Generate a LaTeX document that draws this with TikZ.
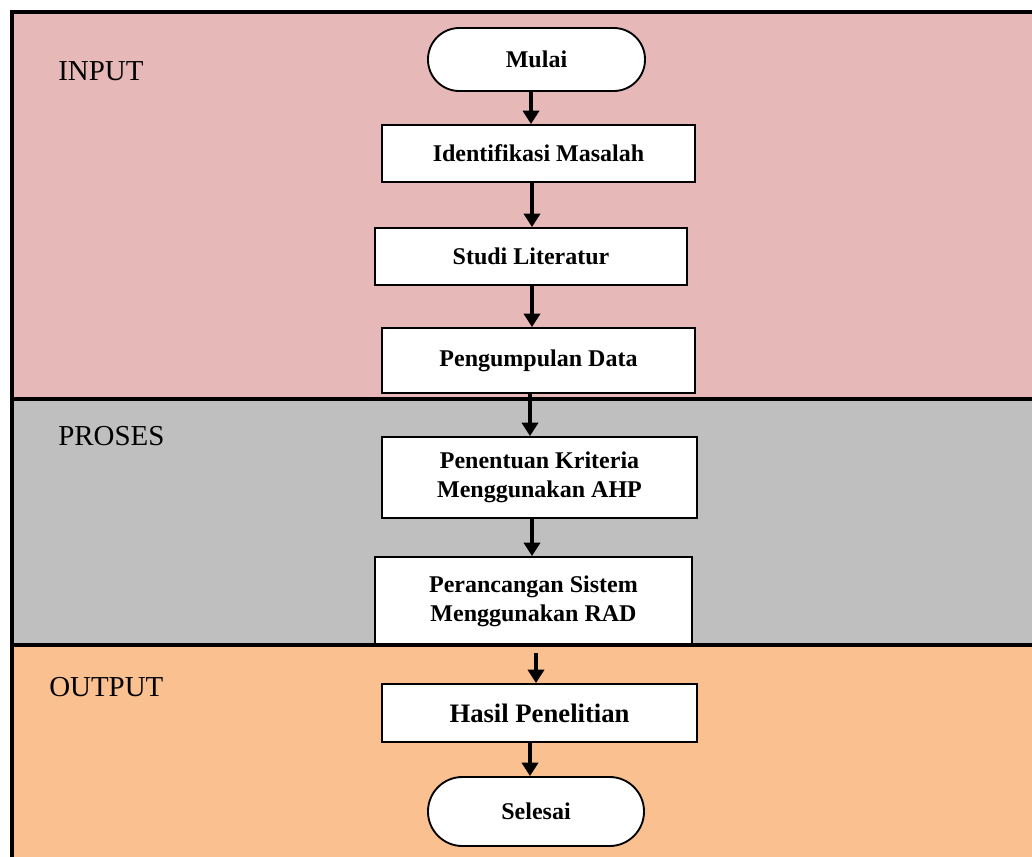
\documentclass[tikz,border=0pt]{standalone}
\usepackage{fontspec}
\setmainfont{Liberation Serif}
\usetikzlibrary{arrows.meta}
\definecolor{pinkbg}{RGB}{230,184,183}
\definecolor{graybg}{RGB}{191,191,191}
\definecolor{orangebg}{RGB}{250,192,144}
\tikzset{
  panel/.style={line width=3pt, draw=black},
  proc/.style={draw=black, fill=white, line width=1.4pt, rectangle, align=center,
    inner sep=0pt, font=\fontsize{18}{21.75}\selectfont\bfseries},
  term/.style={proc},
  lbl/.style={anchor=base west, inner sep=0pt, font=\fontsize{21.7}{26}\selectfont},
  arr/.style={line width=2.8pt, -{Triangle[length=10pt,width=12pt]}}
}
\begin{document}
\begin{tikzpicture}[x=0.75pt,y=-0.75pt]
\useasboundingbox (0,0) rectangle (1032,857);
\clip (0,0) rectangle (1032,857);
% panels fill
\fill[pinkbg] (12,12) rectangle (1050,399);
\fill[graybg] (12,399) rectangle (1050,645);
\fill[orangebg] (12,645) rectangle (1050,880);
% labels
\node[lbl] (lin) at (58,80) {INPUT};
\node[lbl] (lpr) at (58,445) {PROSES};
\node[lbl] (lout) at (49,696) {OUTPUT};
% nodes
\node[term, minimum width=162.75pt, minimum height=47.25pt, rounded corners=23.5pt] (m) at (536.5,59.5) {Mulai};
\node[proc, minimum width=234.75pt, minimum height=42.75pt] (i) at (538.5,153.5) {Identifikasi Masalah};
\node[proc, minimum width=234pt, minimum height=42.75pt] (s) at (531,256.5) {Studi Literatur};
\node[proc, minimum width=234.75pt, minimum height=48.75pt] (p) at (538.5,360.5) {Pengumpulan Data};
\node[proc, minimum width=236.25pt, minimum height=60.75pt] (k) at (539.5,477.5) {Penentuan Kriteria\\Menggunakan AHP};
\node[proc, minimum width=237.75pt, minimum height=66pt] (r) at (533.5,601) {Perancangan Sistem\\Menggunakan RAD};
\node[proc, minimum width=236.25pt, minimum height=43.5pt, font=\fontsize{20}{24}\selectfont\bfseries] (h) at (539.5,713) {Hasil Penelitian};
\node[term, minimum width=162pt, minimum height=51.75pt, rounded corners=25.8pt] (e) at (536,811.5) {Selesai};
% arrow x positions
\coordinate (c1) at (531,0);
\coordinate (c2) at (532,0);
\coordinate (c3) at (532,0);
\coordinate (c4) at (530,0);
\coordinate (c5) at (532,0);
\coordinate (c6) at (536,0);
\coordinate (c7) at (530,0);
\draw[arr] (m.south -| c1) -- (i.north -| c1);
\draw[arr] (i.south -| c2) -- (s.north -| c2);
\draw[arr] (s.south -| c3) -- (p.north -| c3);
\draw[arr] (p.south -| c4) -- (k.north -| c4);
\draw[arr] (k.south -| c5) -- (r.north -| c5);
\draw[arr, shorten <=5.25pt] (r.south -| c6) -- (h.north -| c6);
\draw[arr] (h.south -| c7) -- (e.north -| c7);
% panel borders
\draw[panel] (1050,12) -- (12,12) -- (12,880);
\draw[panel] (12,399) -- (1050,399);
\draw[panel] (12,645) -- (1050,645);
\end{tikzpicture}
\end{document}
